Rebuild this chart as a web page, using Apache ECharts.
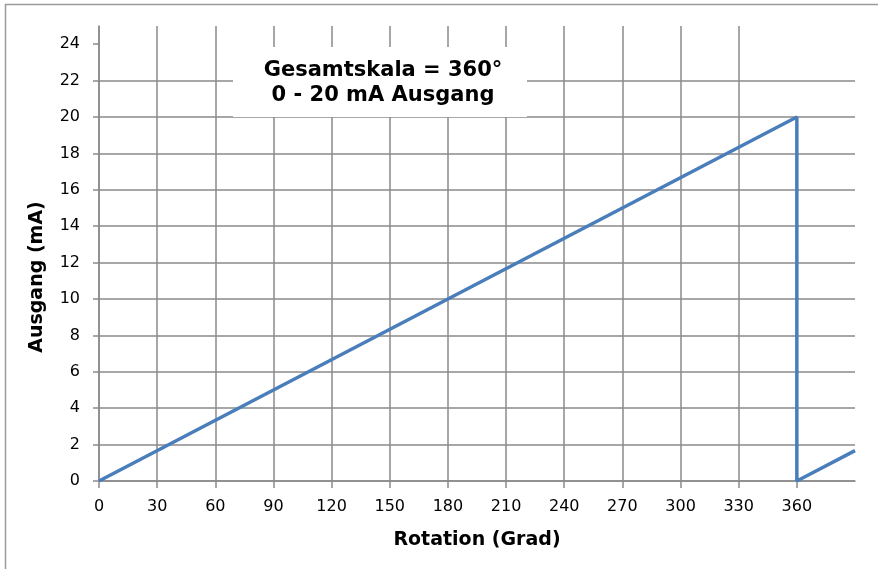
<!DOCTYPE html>
<html>
<head>
<meta charset="utf-8">
<script src="https://cdn.jsdelivr.net/npm/echarts@6/dist/echarts.min.js"></script>
<style>html,body{margin:0;padding:0;background:#fff}#c{width:878px;height:569px}</style>
</head>
<body>
<div id="c"></div>
<script>
const rotation = [0, 360, 360, 390];
const outputMA = [0, 20, 0, 1.67];
const xTicks = [0, 30, 60, 90, 120, 150, 180, 210, 240, 270, 300, 330, 360];
const yTicks = [0, 2, 4, 6, 8, 10, 12, 14, 16, 18, 20, 22, 24];
const titleLines = ['Gesamtskala = 360°', '0 - 20 mA Ausgang'];
const xName = 'Rotation (Grad)';
const yName = 'Ausgang (mA)';

const gridColor = '#8a8a8a';
const font = 'DejaVu Sans, Verdana, sans-serif';
const chart = echarts.init(document.getElementById('c'));
chart.setOption({
  animation: false,
  grid: { left: 99, right: 23, top: 26, bottom: 88 },
  xAxis: {
    type: 'value', min: 0, max: 390, interval: 30,
    name: xName, nameLocation: 'middle', nameGap: 50,
    nameTextStyle: { fontFamily: font, fontWeight: 'bold', fontSize: 19, color: '#000' },
    axisLine: { show: true, lineStyle: { color: gridColor, width: 1.5 } },
    axisTick: { show: true, length: 7, customValues: xTicks, lineStyle: { color: gridColor, width: 1.5 } },
    axisLabel: { customValues: xTicks, margin: 18, fontFamily: font, fontSize: 16, color: '#000' },
    splitLine: { show: true, showMaxLine: false, lineStyle: { color: gridColor, width: 1.5 } }
  },
  yAxis: {
    type: 'value', min: 0, max: 25, interval: 2,
    axisLine: { show: true, lineStyle: { color: gridColor, width: 1.5 } },
    axisTick: { show: true, length: 6, customValues: yTicks, lineStyle: { color: gridColor, width: 1.5 } },
    axisLabel: { customValues: yTicks, margin: 19, fontFamily: font, fontSize: 16, color: '#000' },
    splitLine: { show: true, showMaxLine: false, lineStyle: { color: gridColor, width: 1.5 } }
  },
  graphic: [
    { type: 'rect', shape: { x: 5.5, y: 4.5, width: 900, height: 600 }, style: { fill: 'none', stroke: '#9a9a9a', lineWidth: 1.5 }, z: 0, silent: true },
    { type: 'rect', shape: { x: 233, y: 47, width: 294, height: 70 }, style: { fill: '#fff' }, z: 10, silent: true },
    { type: 'text', x: 383, y: 71, style: { text: titleLines[0], font: 'bold 21px ' + font, fill: '#000', align: 'center', verticalAlign: 'middle' }, z: 11 },
    { type: 'text', x: 383, y: 96, style: { text: titleLines[1], font: 'bold 21px ' + font, fill: '#000', align: 'center', verticalAlign: 'middle' }, z: 11 },
    { type: 'text', x: 37, y: 277, rotation: Math.PI / 2, style: { text: yName, font: 'bold 19px ' + font, fill: '#000', align: 'center', verticalAlign: 'middle' }, z: 11 }
  ],
  series: [{
    type: 'line',
    data: rotation.map((r, i) => [r, outputMA[i]]),
    showSymbol: false,
    clip: true,
    lineStyle: { color: '#4a7ebb', width: 3.5 },
    z: 5
  }]
});
</script>
</body>
</html>
